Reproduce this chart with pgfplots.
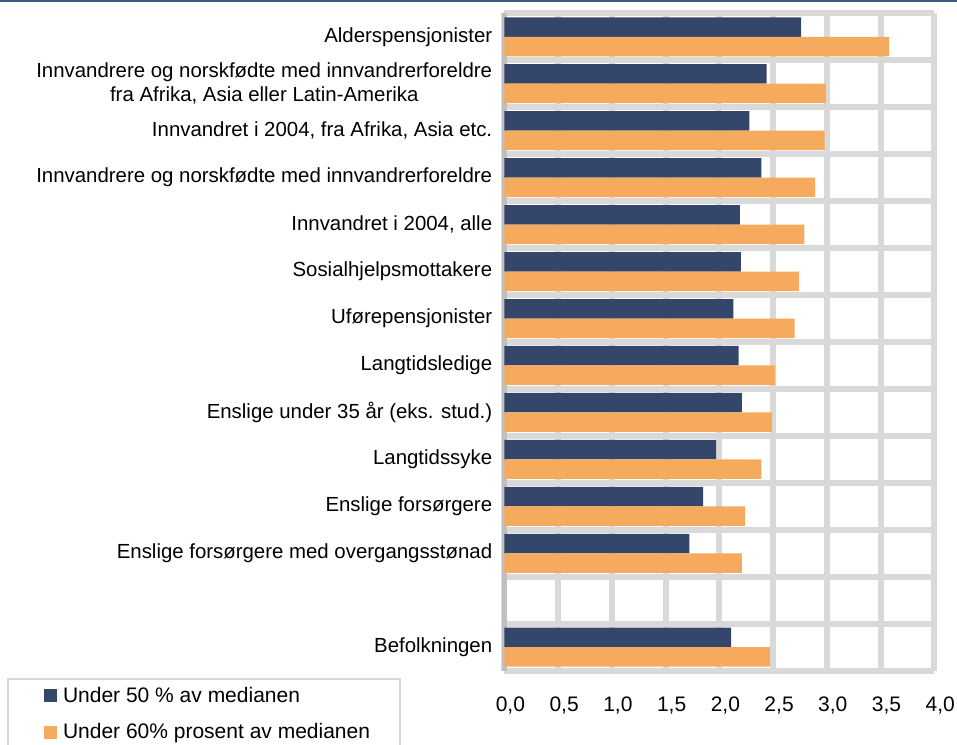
\documentclass[border=0pt]{standalone}
\usepackage{pgfplots}
\pgfplotsset{compat=1.18}
\usepackage{fontspec}
\setmainfont{Liberation Sans}
\definecolor{darkbar}{HTML}{34476A}
\definecolor{orangebar}{HTML}{F6AA5E}
\definecolor{gridgray}{HTML}{D9D9D9}
\definecolor{axisgray}{HTML}{BFBFBF}
\definecolor{toprule}{HTML}{3B5B87}
\begin{document}
\begin{tikzpicture}[x=1pt,y=1pt]
\useasboundingbox (0,0) rectangle (957,744);
\draw[toprule, line width=1.5pt] (0,743.2) -- (957,743.2);
\begin{axis}[
  at={(504.4pt,73.3pt)}, anchor=south west,
  scale only axis, width=429.9pt, height=657.4pt,
  xbar, bar width=19.5pt,
  xmin=0, xmax=4,
  ymin=-0.5, ymax=13.5, y dir=reverse,
  xtick={0,0.5,...,4},
  ytick={0,1,2,3,4,5,6,7,8,9,10,11,13},
  yticklabels={Alderspensjonister,
    {Innvandrere og norskfødte med innvandrerforeldre\\fra Afrika, Asia eller Latin-Amerika},
    {Innvandret i 2004, fra Afrika, Asia etc.},
    Innvandrere og norskfødte med innvandrerforeldre,
    {Innvandret i 2004, alle},
    Sosialhjelpsmottakere,
    Uførepensjonister,
    Langtidsledige,
    Enslige under 35 år (eks. stud.),
    Langtidssyke,
    Enslige forsørgere,
    Enslige forsørgere med overgangsstønad,
    Befolkningen},
  minor ytick={-0.5,0.5,...,13.5},
  major tick length=0pt, minor tick length=0pt,
  xmajorgrids=true, ymajorgrids=false, yminorgrids=true,
  every axis grid/.style={draw=gridgray, line width=6pt},
  major grid style={draw=gridgray, line width=6pt},
  minor grid style={draw=gridgray, line width=6pt},
  axis lines*=left,
  x axis line style={draw=none},
  y axis line style={draw=axisgray, line width=5.5pt},
  /pgf/number format/.cd, use comma, fixed, fixed zerofill, precision=1, assume math mode=true,
  /pgfplots/.cd,
  xticklabel style={font=\fontsize{21}{24}\selectfont, xshift=6pt, yshift=-23pt},
  yticklabel style={font=\fontsize{20.4}{24}\selectfont, align=center, xshift=-8.7pt},
  legend style={at={(axis description cs:0,0)}, anchor=north west,
    xshift=-497.1pt, yshift=-7.5pt, draw=gridgray, line width=1.5pt,
    inner xsep=28pt, inner ysep=6pt, row sep=16pt, column sep=4pt,
    font=\fontsize{21}{25}\selectfont},
  legend cell align=left,
  legend image code/.code={\path (-8pt,0pt); \fill[#1] (0pt,-6.5pt) rectangle (13pt,6.5pt);},
]
\addplot[fill=darkbar, draw=none, bar shift=9.75pt] coordinates {
 (2.76,0) (2.44,1) (2.28,2) (2.39,3) (2.19,4) (2.20,5) (2.13,6)
 (2.18,7) (2.21,8) (1.97,9) (1.85,10) (1.72,11) (2.11,13)};
\addplot[fill=orangebar, draw=none, bar shift=-9.75pt] coordinates {
 (3.58,0) (2.99,1) (2.98,2) (2.89,3) (2.79,4) (2.74,5) (2.70,6)
 (2.52,7) (2.49,8) (2.39,9) (2.24,10) (2.21,11) (2.47,13)};
\legend{Under 50 \% av medianen, Under 60\% prosent av medianen}
\end{axis}
\end{tikzpicture}
\end{document}
